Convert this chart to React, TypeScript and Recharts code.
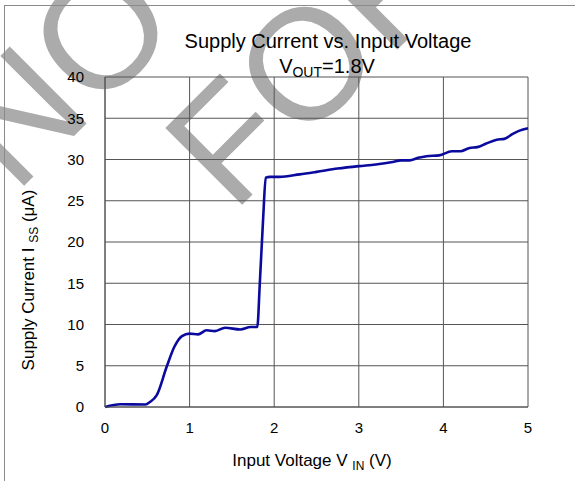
import React from 'react';
import { LineChart, Line, XAxis, YAxis, CartesianGrid } from 'recharts';

// supply current curve
const vin = [
  0, 0.18, 0.48, 0.53, 0.61, 0.73, 0.82, 0.91, 1.0, 1.1, 1.2, 1.3, 1.42, 1.6, 1.72, 1.8,
  1.83, 1.87, 1.9, 1.95, 2.06, 2.3, 2.5, 2.75, 3.0, 3.2, 3.4, 3.5, 3.6, 3.7, 3.8, 3.95,
  4.1, 4.2, 4.31, 4.4, 4.5, 4.63, 4.72, 4.82, 4.9, 5.0,
];
const iss = [
  0, 0.33, 0.3, 0.6, 1.4, 4.9, 7.3, 8.6, 8.9, 8.8, 9.3, 9.2, 9.6, 9.4, 9.7, 9.7,
  15, 23, 27.8, 27.9, 27.9, 28.2, 28.5, 28.9, 29.2, 29.4, 29.7, 29.9, 29.9, 30.2, 30.4, 30.5,
  31.0, 31.0, 31.4, 31.5, 31.9, 32.4, 32.5, 33.1, 33.5, 33.8,
];
const xTicks = [0, 1, 2, 3, 4, 5];
const yTicks = [0, 5, 10, 15, 20, 25, 30, 35, 40];

const data = vin.map((v, i) => ({ vin: v, iss: iss[i] }));

const font = '"Liberation Sans", Arial, sans-serif';
const W = 575;
const H = 481;

// diagonal watermark, only the letters that land on the page
const Watermark = () => (
  <svg width={W} height={H} style={{ position: 'absolute', left: 0, top: 0 }}>
    <g fill="#ababab" fontFamily={font} fontSize={158}>
      <text x={15} y={195} transform="rotate(-45 15 195)">NO</text>
      <text x={233} y={214} transform="rotate(-45 233 214)">FOR</text>
    </g>
  </svg>
);

const Labels = () => (
  <svg width={W} height={H} style={{ position: 'absolute', left: 0, top: 0, pointerEvents: 'none' }}>
    <g fontFamily={font} fill="#000">
      <text x={328} y={48} fontSize={20} textAnchor="middle">Supply Current vs. Input Voltage</text>
      <text x={327} y={73} fontSize={20} textAnchor="middle">
        V<tspan fontSize={14} dy={4}>OUT</tspan>
        <tspan dy={-4}>=1.8V</tspan>
      </text>
      <text x={312} y={466} fontSize={17} textAnchor="middle">
        Input Voltage V <tspan fontSize={12} dy={4}>IN</tspan>
        <tspan dy={-4}> (V)</tspan>
      </text>
      <text x={34} y={280} fontSize={17} textAnchor="middle" transform="rotate(-90 34 280)">
        Supply Current I <tspan fontSize={12} dy={4}>SS</tspan>
        <tspan dy={-4}> (μA)</tspan>
      </text>
    </g>
  </svg>
);

export default function App() {
  return (
    <div style={{ position: 'absolute', left: 0, top: 0, width: W, height: H, background: '#fff' }}>
      <Watermark />
      <div
        style={{
          position: 'absolute',
          left: 4,
          top: 5,
          width: W,
          height: H,
          borderLeft: '1px solid #8a8a8a',
          borderTop: '1px solid #8a8a8a',
        }}
      />
      <div style={{ position: 'absolute', left: 0, top: 0 }}>
        <LineChart width={W} height={H} data={data} margin={{ top: 77, right: 47, bottom: 44, left: 0 }}>
          <CartesianGrid stroke="#555" strokeWidth={1} />
          <XAxis
            dataKey="vin"
            type="number"
            domain={[0, 5]}
            ticks={xTicks}
            height={30}
            tickLine={false}
            tickMargin={9}
            axisLine={{ stroke: '#555' }}
            tick={{ fill: '#000', fontSize: 15, fontFamily: font }}
          />
          <YAxis
            type="number"
            domain={[0, 40]}
            ticks={yTicks}
            width={105}
            tickLine={false}
            tickMargin={15}
            axisLine={{ stroke: '#555' }}
            tick={{ fill: '#000', fontSize: 15, fontFamily: font }}
          />
          <Line
            type="monotone"
            dataKey="iss"
            stroke="#0a0a9e"
            strokeWidth={2.6}
            dot={false}
            isAnimationActive={false}
          />
        </LineChart>
      </div>
      <Labels />
    </div>
  );
}
